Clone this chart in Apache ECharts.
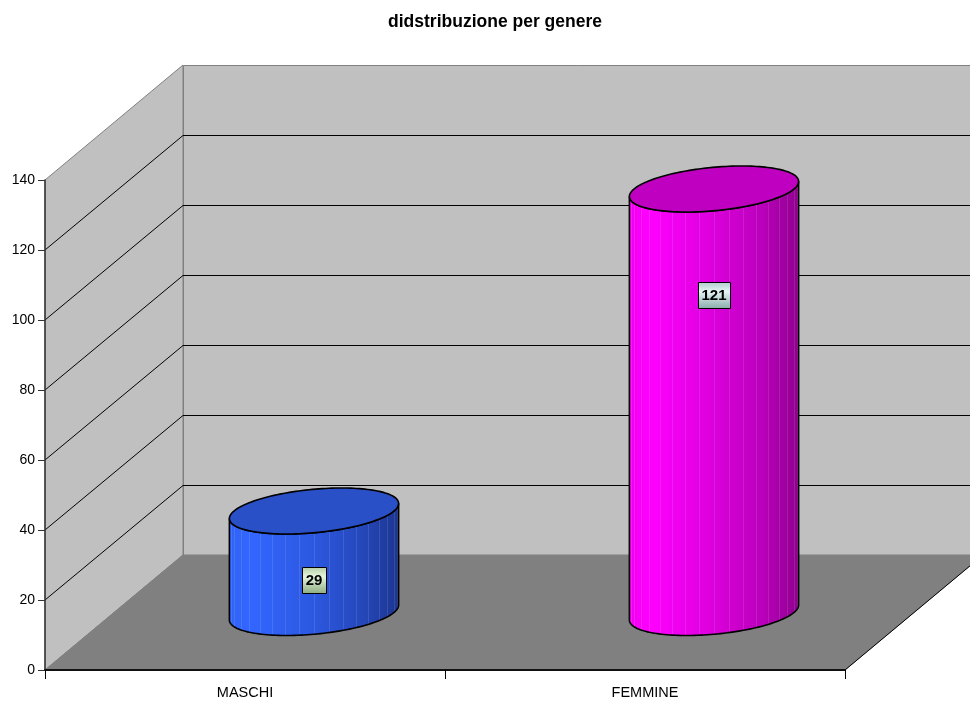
<!DOCTYPE html>
<html>
<head>
<meta charset="utf-8">
<title>didstribuzione per genere</title>
<script src="https://cdn.jsdelivr.net/npm/echarts@6/dist/echarts.min.js"></script>
<style>
  html, body { margin: 0; padding: 0; background: #ffffff; }
  #chart { width: 970px; height: 701px; }
</style>
</head>
<body>
<div id="chart"></div>
<script>
// Chart data
const chartTitle = 'didstribuzione per genere';
const categories = ['MASCHI', 'FEMMINE'];
const counts = [29, 121];
const valueTicks = [0, 20, 40, 60, 80, 100, 120, 140];

// Oblique depth of the 3D box (screen pixels from front plane to back wall)
const DEPTH_DX = 138;
const DEPTH_DY = -115;
const FONT = '"Liberation Sans", Arial, sans-serif';

// Per-bar look: side gradient, top cap colour, value badge gradient, badge height share
const barStyles = [
  {
    side: [['#3062f4', 0], ['#3366ff', 0.12], ['#2c58e0', 0.5], ['#2446b8', 0.8], ['#1c3590', 1]],
    top: '#2a50c8',
    badge: ['#b4cca4', '#e4f4dc', '#8cac80'],
    badgeShare: 0.32
  },
  {
    side: [['#f000f0', 0], ['#ff00ff', 0.12], ['#e000e0', 0.45], ['#bb00bb', 0.78], ['#8f008f', 1]],
    top: '#c000c0',
    badge: ['#b0cccc', '#e6f4f4', '#88aaaa'],
    badgeShare: 0.75
  }
];

const chart = echarts.init(document.getElementById('chart'), null, { renderer: 'canvas' });

// Walls, floor and gridlines of the 3D plot box
function renderBox(params, api) {
  const cs = params.coordSys;
  const x0 = cs.x, x1 = cs.x + cs.width;
  const yTop = cs.y, yBot = cs.y + cs.height;
  const dx = DEPTH_DX, dy = DEPTH_DY;
  const children = [];
  children.push({
    type: 'polygon',
    shape: { points: [[x0, yTop], [x0 + dx, yTop + dy], [x0 + dx, yBot + dy], [x0, yBot]] },
    style: { fill: '#c0c0c0', stroke: '#808080', lineWidth: 1 }
  });
  children.push({
    type: 'polygon',
    shape: { points: [[x0 + dx + 0.5, yTop + dy + 0.5], [x1 + dx, yTop + dy + 0.5], [x1 + dx, yBot + dy + 0.5], [x0 + dx + 0.5, yBot + dy + 0.5]] },
    style: { fill: '#c0c0c0', stroke: '#808080', lineWidth: 1 }
  });
  children.push({
    type: 'polygon',
    shape: { points: [[x0, yBot], [x0 + dx, yBot + dy], [x1 + dx, yBot + dy], [x1, yBot]] },
    style: { fill: '#808080', stroke: '#808080', lineWidth: 1 }
  });
  children.push({
    type: 'line',
    shape: { x1: x1, y1: yBot, x2: x1 + dx, y2: yBot + dy },
    style: { stroke: '#000000', lineWidth: 1 }
  });
  const vMin = valueTicks[0], vMax = valueTicks[valueTicks.length - 1];
  valueTicks.forEach(function (v) {
    if (v === vMin || v === vMax) return;
    const y = api.coord([0, v])[1];
    children.push({
      type: 'polyline',
      shape: { points: [[x0, y], [x0 + dx, y + dy + 0.5], [x1 + dx, y + dy + 0.5]] },
      style: { stroke: '#000000', lineWidth: 1, fill: null }
    });
  });
  return { type: 'group', children: children };
}

// Cylinder bars standing in the middle of the box depth
function renderCylinder(params, api) {
  const idx = api.value(0);
  const val = api.value(1);
  const st = barStyles[idx];
  const base = api.coord([idx, 0]);
  const tip = api.coord([idx, val]);
  const band = api.size([1, 0])[0];
  const cx = base[0] + DEPTH_DX / 2;
  const cyB = base[1] + DEPTH_DY / 2;
  const cyT = tip[1] + DEPTH_DY / 2;
  const D = Math.hypot(DEPTH_DX, DEPTH_DY);
  const ux = DEPTH_DX / D, uy = DEPTH_DY / D;
  const a = band * 0.2, b = D * 0.2;
  const t0 = Math.atan2(ux * b, a);
  const P = function (t, cy) {
    return [cx + a * Math.cos(t) + ux * b * Math.sin(t), cy + uy * b * Math.sin(t)];
  };
  const N = 80;
  const side = [];
  for (let i = 0; i <= N; i++) side.push(P(t0 - Math.PI * i / N, cyB));
  for (let i = N; i >= 0; i--) side.push(P(t0 - Math.PI * i / N, cyT));
  const cap = [];
  for (let i = 0; i < 2 * N; i++) cap.push(P(Math.PI * i / N, cyT));

  const children = [];
  children.push({
    type: 'polygon',
    shape: { points: side },
    style: {
      fill: new echarts.graphic.LinearGradient(0, 0, 1, 0,
        st.side.map(function (s) { return { offset: s[1], color: s[0] }; })),
      stroke: 'none'
    }
  });
  // faint vertical facet lines on the curved side
  const S = 18;
  for (let k = 1; k < S; k++) {
    const t = t0 - Math.PI * k / S;
    const pT = P(t, cyT), pB = P(t, cyB);
    const xs = Math.round(pT[0]) + 0.5;
    children.push({
      type: 'line',
      shape: { x1: xs, y1: pT[1], x2: xs, y2: pB[1] },
      style: { stroke: 'rgba(255,255,255,0.11)', lineWidth: 1 }
    });
  }
  children.push({
    type: 'polygon',
    shape: { points: side },
    style: { fill: 'none', stroke: '#000000', lineWidth: 1.6 }
  });
  children.push({
    type: 'polygon',
    shape: { points: cap },
    style: { fill: st.top, stroke: '#000000', lineWidth: 1.6 }
  });

  // value badge
  const lp = api.coord([idx, val * st.badgeShare]);
  const lx = lp[0] + DEPTH_DX / 2;
  const ly = lp[1] + DEPTH_DY / 2;
  const txt = String(val);
  const tw = echarts.format.getTextRect ? echarts.format.getTextRect(txt, 'bold 15px ' + FONT).width : txt.length * 8;
  const w = Math.round(tw + 7), h = 26;
  children.push({
    type: 'rect',
    shape: { x: Math.round(lx - w / 2) + 0.5, y: Math.round(ly - h / 2) + 0.5, width: w, height: h },
    style: {
      fill: new echarts.graphic.LinearGradient(0, 0, 0, 1, [
        { offset: 0, color: st.badge[0] },
        { offset: 0.35, color: st.badge[1] },
        { offset: 1, color: st.badge[2] }
      ]),
      stroke: '#000000',
      lineWidth: 1
    }
  });
  children.push({
    type: 'text',
    x: lx,
    y: ly + 1,
    style: {
      text: txt,
      align: 'center',
      verticalAlign: 'middle',
      fill: '#000000',
      fontSize: 15,
      fontWeight: 'bold',
      fontFamily: FONT
    }
  });
  return { type: 'group', children: children };
}

const option = {
  animation: false,
  backgroundColor: '#ffffff',
  graphic: [{
    type: 'text',
    x: 495,
    y: 22,
    style: {
      text: chartTitle,
      align: 'center',
      verticalAlign: 'middle',
      fill: '#000000',
      fontSize: 17.5,
      fontWeight: 'bold',
      fontFamily: FONT
    }
  }],
  grid: { left: 45, right: 125, top: 180, bottom: 31, containLabel: false },
  xAxis: {
    type: 'category',
    data: categories,
    boundaryGap: true,
    z: 10,
    axisLine: { show: true, lineStyle: { color: '#111111', width: 2 } },
    axisTick: { show: true, length: 9, lineStyle: { color: '#000000', width: 1 } },
    axisLabel: { color: '#000000', fontSize: 14.5, fontFamily: FONT, margin: 15 },
    splitLine: { show: false }
  },
  yAxis: {
    type: 'value',
    min: valueTicks[0],
    max: valueTicks[valueTicks.length - 1],
    interval: valueTicks[1] - valueTicks[0],
    z: 10,
    axisLine: { show: true, lineStyle: { color: '#333333', width: 1.5 } },
    axisTick: { show: true, length: 7, lineStyle: { color: '#333333', width: 1 } },
    axisLabel: { color: '#000000', fontSize: 14, fontFamily: FONT, margin: 10 },
    splitLine: { show: false }
  },
  series: [
    {
      type: 'custom',
      name: 'box',
      z: 1,
      clip: false,
      silent: true,
      renderItem: renderBox,
      data: [[0, 0]],
      encode: { x: 0, y: 1 }
    },
    {
      type: 'custom',
      name: 'genere',
      z: 3,
      clip: false,
      renderItem: renderCylinder,
      data: counts.map(function (v, i) { return [i, v]; }),
      encode: { x: 0, y: 1 }
    }
  ]
};

chart.setOption(option);
</script>
</body>
</html>
